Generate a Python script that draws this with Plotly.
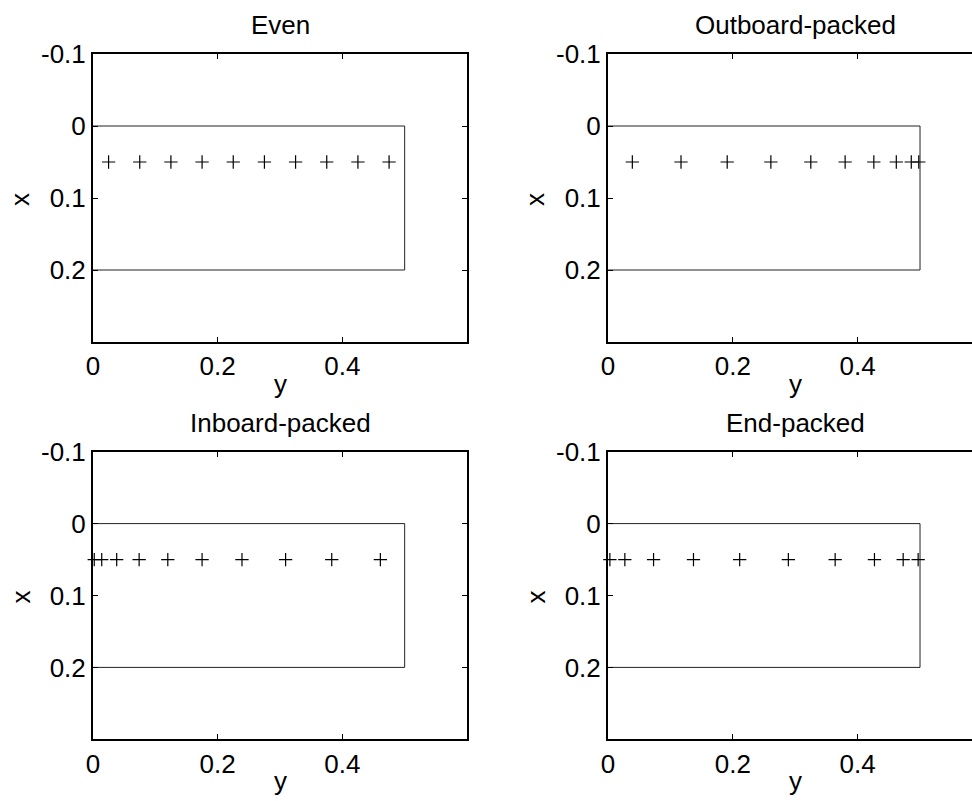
import plotly.graph_objects as go

# ---- data ----
titles = ["Even", "Outboard-packed", "Inboard-packed", "End-packed"]
even_y = [0.025, 0.075, 0.125, 0.175, 0.225, 0.275, 0.325, 0.375, 0.425, 0.475]
outboard_y = [0.039, 0.117, 0.191, 0.261, 0.325, 0.380, 0.426, 0.462, 0.486, 0.498]
inboard_y = [0.002, 0.014, 0.038, 0.074, 0.120, 0.175, 0.239, 0.309, 0.383, 0.461]
end_y = [0.003, 0.027, 0.073, 0.137, 0.211, 0.289, 0.364, 0.427, 0.473, 0.497]
point_x = [0.05, 0.05, 0.05, 0.05, 0.05, 0.05, 0.05, 0.05, 0.05, 0.05]
wing_y = [0, 0.5, 0.5, 0]
wing_x = [0, 0, 0.2, 0.2]
x_tickvals = [0, 0.2, 0.4]
x_ticktext = ["0", "0.2", "0.4"]
y_tickvals = [-0.1, 0, 0.1, 0.2]
y_ticktext = ["-0.1", "0", "0.1", "0.2"]
x_label = "y"
y_label = "x"

W, H = 972, 801
FONT = "Liberation Sans, Arial, Helvetica, sans-serif"
FS = 26


def px_x(p):
    return p / W


def px_y(p):
    return 1 - p / H


# panel geometry in pixels: (left, right, top, bottom, xmax)
panels = [
    (93, 467, 54, 342, 0.6),
    (608, 972, 54, 342, 0.5833),
    (93, 467, 451.7, 739.3, 0.6),
    (608, 972, 451.7, 739.3, 0.5833),
]
series = [even_y, outboard_y, inboard_y, end_y]

fig = go.Figure()
layout = dict(
    template="none",
    width=W, height=H,
    margin=dict(l=0, r=0, t=0, b=0, pad=0, autoexpand=False),
    paper_bgcolor="white", plot_bgcolor="white",
    showlegend=False,
    font=dict(family=FONT, size=FS, color="black"),
)
annotations = []

for i, ((l, r, t, b, xmax), ys, title) in enumerate(zip(panels, series, titles)):
    n = "" if i == 0 else str(i + 1)
    xa, ya = "x" + n, "y" + n
    fig.add_trace(go.Scatter(x=wing_y, y=wing_x, mode="lines",
                             line=dict(color="#222222", width=1),
                             xaxis=xa, yaxis=ya, hoverinfo="skip"))
    fig.add_trace(go.Scatter(x=ys, y=point_x, mode="markers",
                             marker=dict(symbol="cross-thin", size=9.5,
                                         color="black",
                                         line=dict(color="black", width=1.2)),
                             cliponaxis=False, xaxis=xa, yaxis=ya))
    right_col = (i % 2 == 1)
    layout["xaxis" + n] = dict(
        domain=[px_x(l), min(1.0, px_x(r))], anchor=ya, automargin=False,
        range=[0, xmax], tickvals=x_tickvals, ticktext=x_ticktext,
        showline=True, linecolor="black", linewidth=2,
        mirror="ticks", ticks="inside", ticklen=5, tickwidth=1,
        tickcolor="black", showgrid=False, zeroline=False,
        tickfont=dict(family=FONT, size=FS, color="black"),
    )
    layout["yaxis" + n] = dict(
        domain=[px_y(b), px_y(t)], anchor=xa, automargin=False,
        range=[0.3, -0.1], tickvals=y_tickvals, ticktext=y_ticktext,
        showline=True, linecolor="black", linewidth=2,
        mirror=False if right_col else "ticks",
        ticks="inside", ticklen=5, tickwidth=1,
        tickcolor="black", showgrid=False, zeroline=False,
        tickfont=dict(family=FONT, size=FS, color="black"),
    )
    cx = l + (467 - 93) / 2
    annotations.append(dict(text=title, x=px_x(cx), y=px_y(t - 29),
                            xref="paper", yref="paper", showarrow=False,
                            xanchor="center", yanchor="middle",
                            font=dict(family=FONT, size=FS, color="black")))
    annotations.append(dict(text=x_label, x=px_x(cx), y=px_y(b + 42),
                            xref="paper", yref="paper", showarrow=False,
                            xanchor="center", yanchor="middle",
                            font=dict(family=FONT, size=FS, color="black")))
    annotations.append(dict(text=y_label, x=px_x(l - 73), y=px_y((t + b) / 2 + 2),
                            xref="paper", yref="paper", showarrow=False,
                            textangle=-90, xanchor="center", yanchor="middle",
                            font=dict(family=FONT, size=FS, color="black")))

layout["annotations"] = annotations
fig.update_layout(**layout)
fig.write_html("out.html",
               config={"displayModeBar": False, "staticPlot": True},
               post_script="document.body.style.margin='0px';document.body.style.overflow='hidden';")
